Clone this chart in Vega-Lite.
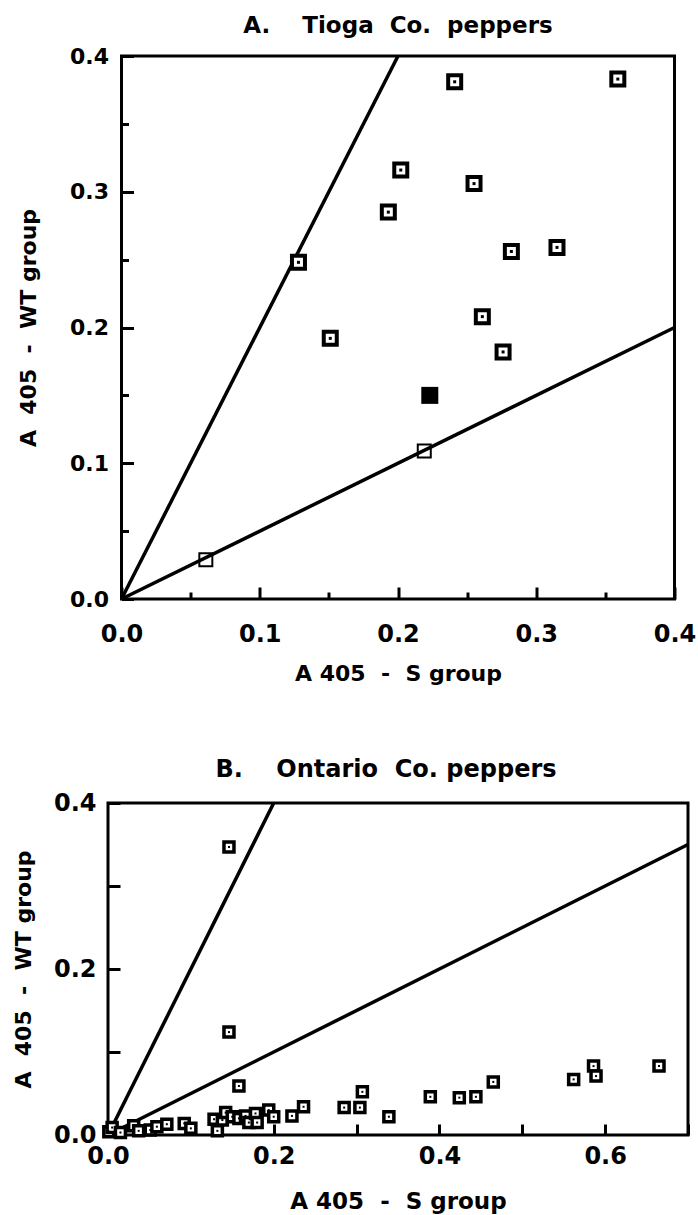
{
  "$schema": "https://vega.github.io/schema/vega-lite/v6.json",
  "background": "white",
  "padding": {"left": 10, "top": 13, "right": 0, "bottom": 0},
  "config": {
    "view": {"stroke": "black", "strokeWidth": 3},
    "font": "DejaVu Sans",
    "axis": {"domain": false, "grid": false, "ticks": true, "tickColor": "black", "tickWidth": 3, "labelColor": "black", "titleColor": "black", "labelFont": "DejaVu Sans", "titleFont": "DejaVu Sans", "labelFontWeight": "bold", "titleFontWeight": "bold", "labelFlush": false, "labelOverlap": false},
    "title": {"font": "DejaVu Sans", "fontWeight": "bold", "color": "black"}
  },
  "datasets": {
    "tiogaLines": [
      {"line": "a", "s": 0, "wt": 0}, {"line": "a", "s": 0.2, "wt": 0.4},
      {"line": "b", "s": 0, "wt": 0}, {"line": "b", "s": 0.4, "wt": 0.2}
    ],
    "ontarioLines": [
      {"line": "a", "s": 0, "wt": 0}, {"line": "a", "s": 0.2, "wt": 0.4},
      {"line": "b", "s": 0, "wt": 0}, {"line": "b", "s": 0.7, "wt": 0.35}
    ],
    "tioga": [
      {"s": 0.241, "wt": 0.381, "kind": "open"},
      {"s": 0.359, "wt": 0.383, "kind": "open"},
      {"s": 0.202, "wt": 0.316, "kind": "open"},
      {"s": 0.255, "wt": 0.306, "kind": "open"},
      {"s": 0.193, "wt": 0.285, "kind": "open"},
      {"s": 0.128, "wt": 0.248, "kind": "open"},
      {"s": 0.282, "wt": 0.256, "kind": "open"},
      {"s": 0.315, "wt": 0.259, "kind": "open"},
      {"s": 0.261, "wt": 0.208, "kind": "open"},
      {"s": 0.151, "wt": 0.192, "kind": "open"},
      {"s": 0.276, "wt": 0.182, "kind": "open"},
      {"s": 0.223, "wt": 0.150, "kind": "filled"},
      {"s": 0.219, "wt": 0.109, "kind": "thin"},
      {"s": 0.061, "wt": 0.029, "kind": "thin"}
    ],
    "ontario": [
      {"s": 0.001, "wt": 0.004}, {"s": 0.005, "wt": 0.009}, {"s": 0.015, "wt": 0.003},
      {"s": 0.031, "wt": 0.011}, {"s": 0.037, "wt": 0.005}, {"s": 0.051, "wt": 0.006},
      {"s": 0.059, "wt": 0.010}, {"s": 0.071, "wt": 0.013}, {"s": 0.092, "wt": 0.014},
      {"s": 0.100, "wt": 0.008}, {"s": 0.128, "wt": 0.019}, {"s": 0.132, "wt": 0.005},
      {"s": 0.138, "wt": 0.018}, {"s": 0.142, "wt": 0.027}, {"s": 0.146, "wt": 0.124},
      {"s": 0.146, "wt": 0.347}, {"s": 0.150, "wt": 0.022}, {"s": 0.158, "wt": 0.059},
      {"s": 0.158, "wt": 0.020}, {"s": 0.166, "wt": 0.023}, {"s": 0.170, "wt": 0.015},
      {"s": 0.178, "wt": 0.026}, {"s": 0.180, "wt": 0.015}, {"s": 0.194, "wt": 0.030},
      {"s": 0.200, "wt": 0.022}, {"s": 0.222, "wt": 0.023}, {"s": 0.236, "wt": 0.034},
      {"s": 0.285, "wt": 0.033}, {"s": 0.304, "wt": 0.033}, {"s": 0.307, "wt": 0.052},
      {"s": 0.339, "wt": 0.022}, {"s": 0.389, "wt": 0.046}, {"s": 0.424, "wt": 0.045},
      {"s": 0.444, "wt": 0.046}, {"s": 0.465, "wt": 0.064}, {"s": 0.562, "wt": 0.067},
      {"s": 0.586, "wt": 0.083}, {"s": 0.589, "wt": 0.071}, {"s": 0.665, "wt": 0.083}
    ]
  },
  "columns": 1,
  "align": "each",
  "bounds": "flush",
  "center": true,
  "spacing": 204,
  "concat": [
    {
      "width": 553,
      "height": 543,
      "title": {"text": "A.\u00a0\u00a0\u00a0 Tioga\u00a0 Co.\u00a0 peppers", "frame": "group", "offset": 7, "fontSize": 23},
      "encoding": {
        "x": {
          "field": "s", "type": "quantitative",
          "scale": {"domain": [0, 0.4], "nice": false, "zero": true},
          "axis": {
            "values": [0, 0.05, 0.1, 0.15, 0.2, 0.25, 0.3, 0.35, 0.4],
            "labelExpr": "round(datum.value*20)%2==0 ? format(datum.value,'.1f') : ''",
            "tickSize": {"condition": {"test": "round(datum.value*20)%2==0", "value": -12}, "value": -7},
            "labelPadding": 35, "labelFontSize": 24,
            "title": "A 405\u00a0 -\u00a0 S group", "titleFontSize": 22, "titlePadding": 12
          }
        },
        "y": {
          "field": "wt", "type": "quantitative",
          "scale": {"domain": [0, 0.4], "nice": false, "zero": true},
          "axis": {
            "values": [0, 0.05, 0.1, 0.15, 0.2, 0.25, 0.3, 0.35, 0.4],
            "labelExpr": "round(datum.value*20)%2==0 ? format(datum.value,'.1f') : ''",
            "tickSize": {"condition": {"test": "round(datum.value*20)%2==0", "value": -12}, "value": -7},
            "labelPadding": 25, "labelFontSize": 22,
            "title": "A\u00a0 405\u00a0 -\u00a0 WT group", "titleFontSize": 22, "titlePadding": 29
          }
        }
      },
      "layer": [
        {"data": {"name": "tiogaLines"}, "mark": {"type": "line", "color": "black", "strokeWidth": 3.5}, "encoding": {"detail": {"field": "line"}}},
        {"data": {"name": "tioga"}, "transform": [{"filter": "datum.kind=='open'"}], "mark": {"type": "point", "shape": "square", "size": 169, "fill": "white", "fillOpacity": 1, "stroke": "black", "strokeWidth": 4, "opacity": 1}},
        {"data": {"name": "tioga"}, "transform": [{"filter": "datum.kind=='open'"}], "mark": {"type": "point", "shape": "square", "size": 9, "filled": true, "color": "black", "opacity": 1}},
        {"data": {"name": "tioga"}, "transform": [{"filter": "datum.kind=='filled'"}], "mark": {"type": "point", "shape": "square", "size": 289, "filled": true, "color": "black", "opacity": 1}},
        {"data": {"name": "tioga"}, "transform": [{"filter": "datum.kind=='thin'"}], "mark": {"type": "point", "shape": "square", "size": 169, "fill": "white", "fillOpacity": 0, "stroke": "black", "strokeWidth": 2, "opacity": 1}}
      ]
    },
    {
      "width": 580,
      "height": 332,
      "title": {"text": "B.\u00a0\u00a0\u00a0 Ontario\u00a0 Co. peppers", "frame": "group", "offset": 9, "fontSize": 24, "dx": -12},
      "encoding": {
        "x": {
          "field": "s", "type": "quantitative",
          "scale": {"domain": [0, 0.7], "nice": false, "zero": true},
          "axis": {
            "values": [0, 0.1, 0.2, 0.3, 0.4, 0.5, 0.6, 0.7],
            "labelExpr": "round(datum.value*10)%2==0 ? format(datum.value,'.1f') : ''",
            "tickSize": -11,
            "labelPadding": 20, "labelFontSize": 24,
            "title": "A 405\u00a0 -\u00a0 S group", "titleFontSize": 23, "titlePadding": 22
          }
        },
        "y": {
          "field": "wt", "type": "quantitative",
          "scale": {"domain": [0, 0.4], "nice": false, "zero": true},
          "axis": {
            "values": [0, 0.1, 0.2, 0.3, 0.4],
            "labelExpr": "round(datum.value*10)%2==0 ? format(datum.value,'.1f') : ''",
            "tickSize": -12,
            "labelPadding": 24, "labelFontSize": 24,
            "title": "A\u00a0 405\u00a0 -\u00a0 WT group", "titleFontSize": 22, "titlePadding": 18
          }
        }
      },
      "layer": [
        {"data": {"name": "ontarioLines"}, "mark": {"type": "line", "color": "black", "strokeWidth": 3.5}, "encoding": {"detail": {"field": "line"}}},
        {"data": {"name": "ontario"}, "mark": {"type": "point", "shape": "square", "size": 100, "fill": "white", "fillOpacity": 1, "stroke": "black", "strokeWidth": 3.5, "opacity": 1}},
        {"data": {"name": "ontario"}, "mark": {"type": "point", "shape": "square", "size": 4, "filled": true, "color": "black", "opacity": 1}}
      ]
    }
  ]
}
